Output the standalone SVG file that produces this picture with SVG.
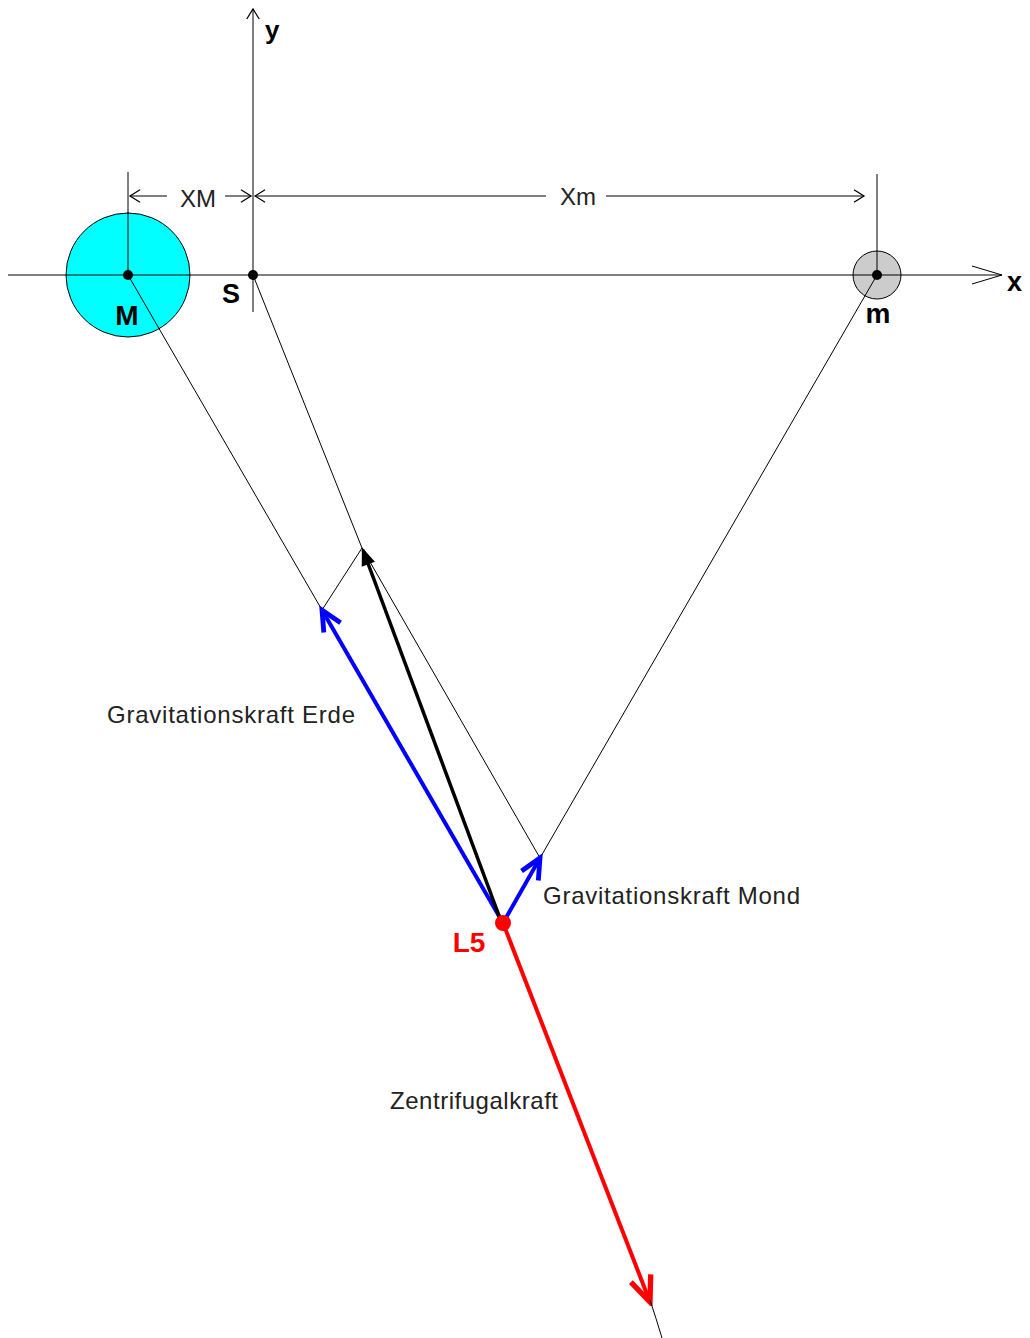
<svg xmlns="http://www.w3.org/2000/svg" width="1030" height="1338" viewBox="0 0 1030 1338">
<style>
.thin{stroke:#000;stroke-width:1;fill:none}
.lbl{font-family:"Liberation Sans",Arial,sans-serif;font-size:24px;fill:#222}
.bold{font-family:"Liberation Sans",Arial,sans-serif;font-weight:bold;fill:#000}
</style>
<defs>
<marker id="dim" markerUnits="userSpaceOnUse" markerWidth="20" markerHeight="20" refX="0" refY="0" viewBox="-12 -8 14 16" orient="auto">
<path d="M-8 -5 L0 0 L-8 5" fill="none" stroke="#000" stroke-width="1"/>
</marker>
<marker id="axis" markerUnits="userSpaceOnUse" markerWidth="40" markerHeight="24" refX="0" refY="0" viewBox="-34 -12 36 24" orient="auto">
<path d="M-30 -9 L0 0 L-30 9" fill="none" stroke="#000" stroke-width="1"/>
</marker>
<marker id="ablue" markerUnits="userSpaceOnUse" markerWidth="30" markerHeight="30" refX="0" refY="0" viewBox="-24 -14 28 28" orient="auto">
<path d="M-19 -9 L0 0 L-19 9" fill="none" stroke="#0000ff" stroke-width="4.5" stroke-linejoin="miter"/>
</marker>
<marker id="ared" markerUnits="userSpaceOnUse" markerWidth="34" markerHeight="34" refX="0" refY="0" viewBox="-28 -16 32 32" orient="auto">
<path d="M-24 -10 L0 0 L-24 10" fill="none" stroke="#ff0000" stroke-width="5" stroke-linejoin="miter"/>
</marker>
<marker id="ablack" markerUnits="userSpaceOnUse" markerWidth="24" markerHeight="24" refX="0" refY="0" viewBox="-18 -10 22 20" orient="auto">
<path d="M-13 -5 L0 0 L-13 5 Z" fill="#000" stroke="#000" stroke-width="2"/>
</marker>
</defs>

<g id="axes">
<line class="thin" x1="8" y1="275" x2="1002" y2="275" marker-end="url(#axis)"/>
<line class="thin" x1="253" y1="312" x2="253" y2="9" stroke-width="1.2" marker-end="url(#dim)"/>
<text class="bold" x="1007" y="291" font-size="27">x</text>
<text class="bold" x="265" y="39" font-size="26">y</text>
</g>

<g id="dimensions">
<line class="thin" x1="128" y1="172" x2="128" y2="275"/>
<line class="thin" x1="877" y1="174" x2="877" y2="275"/>
<line class="thin" x1="167" y1="196" x2="130" y2="196" marker-end="url(#dim)"/>
<line class="thin" x1="225" y1="196" x2="251" y2="196" marker-end="url(#dim)"/>
<text class="lbl" x="198" y="207" text-anchor="middle" font-size="26" fill="#333">XM</text>
<line class="thin" x1="546" y1="196" x2="255" y2="196" marker-end="url(#dim)"/>
<line class="thin" x1="606" y1="196" x2="864" y2="196" marker-end="url(#dim)"/>
<text class="lbl" x="578" y="205" text-anchor="middle" font-size="26" fill="#333">Xm</text>
</g>

<g id="node-M">
<circle cx="128" cy="275" r="62" fill="#00ffff" stroke="#000" stroke-width="1"/>
<line class="thin" x1="66" y1="275" x2="190" y2="275"/>
<line class="thin" x1="128" y1="212" x2="128" y2="275"/>
<circle cx="128" cy="275" r="5" fill="#000"/>
<text class="bold" x="127" y="325" font-size="28" text-anchor="middle">M</text>
</g>

<g id="node-S">
<circle cx="253" cy="275" r="5" fill="#000"/>
<text class="bold" x="231" y="303" font-size="27" text-anchor="middle">S</text>
</g>

<g id="node-m">
<circle cx="877" cy="275" r="24" fill="#cccccc" stroke="#000" stroke-width="1"/>
<line class="thin" x1="853" y1="275" x2="901" y2="275"/>
<line class="thin" x1="877" y1="251" x2="877" y2="275"/>
<circle cx="877" cy="275" r="5" fill="#000"/>
<text class="bold" x="878" y="323" font-size="28" text-anchor="middle">m</text>
</g>

<g id="connectors">
<line class="thin" x1="128" y1="275" x2="322" y2="610"/>
<line class="thin" x1="253" y1="275" x2="362" y2="548" stroke-width="1.5"/>
<line class="thin" x1="877" y1="275" x2="540" y2="858"/>
<line class="thin" x1="322" y1="610" x2="362" y2="548"/>
<line class="thin" x1="362" y1="548" x2="540" y2="858"/>
<line x1="503" y1="923" x2="322" y2="610" stroke="#0000ff" stroke-width="4" marker-end="url(#ablue)"/>
<line x1="503" y1="923" x2="540" y2="858" stroke="#0000ff" stroke-width="4" marker-end="url(#ablue)"/>
<line x1="501" y1="921" x2="363" y2="550" stroke="#000" stroke-width="3.5" marker-end="url(#ablack)"/>
<line x1="503" y1="923" x2="650" y2="1302" stroke="#ff0000" stroke-width="4" marker-end="url(#ared)"/>
<path class="thin" d="M650 1300 Q656 1318 662 1338" stroke-width="1.5"/>
</g>

<g id="node-L5">
<circle cx="503" cy="923" r="8" fill="#ff0000"/>
<text class="bold" x="469" y="952" font-size="28" text-anchor="middle" style="fill:#ff0000">L5</text>
</g>

<g id="labels">
<text class="lbl" x="107" y="723" textLength="248">Gravitationskraft Erde</text>
<text class="lbl" x="543" y="904" textLength="257">Gravitationskraft Mond</text>
<text class="lbl" x="390" y="1109" textLength="168">Zentrifugalkraft</text>
</g>
</svg>
